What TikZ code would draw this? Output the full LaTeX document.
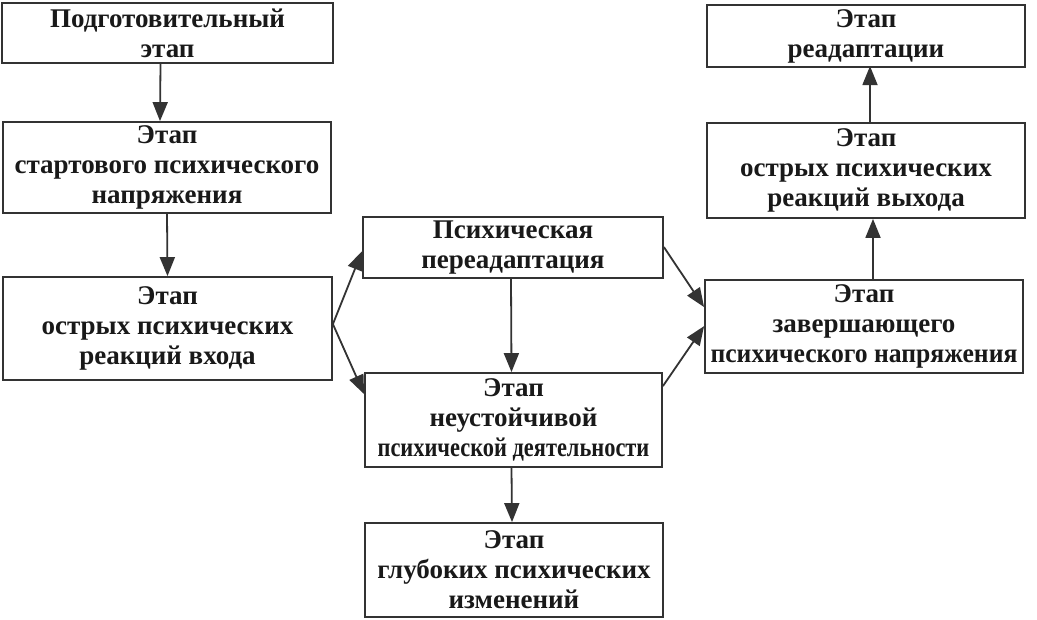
\documentclass[tikz,border=0pt]{standalone}
\usepackage{fontspec}
\setmainfont{Liberation Serif}
\usetikzlibrary{arrows.meta,calc}
\begin{document}
\begin{tikzpicture}[x=1pt,y=-1pt,
  stagebox/.style={draw=black!80,line width=1.8pt,rectangle,inner sep=0pt,align=center,
    font=\fontsize{27}{30}\selectfont\bfseries,text=black!90},
  link/.style={draw=black!80,line width=1.8pt,-{Triangle[length=19pt,width=15pt]}}]
\useasboundingbox (0,0) rectangle (1037,619);
\fill[white] (0,0) rectangle (1037,619);
\node[stagebox,minimum width=331pt,minimum height=60pt] (b1) at (167.5,33) {Подготовительный\\этап};
\node[stagebox,minimum width=328pt,minimum height=91pt] (b2) at (167,167.5) {Этап\\стартового психического\\напряжения};
\node[stagebox,minimum width=329pt,minimum height=103pt] (b3) at (167.5,328.5) {Этап\\острых психических\\реакций входа};
\node[stagebox,minimum width=300pt,minimum height=61pt] (b4) at (513,247.5) {Психическая\\переадаптация};
\node[stagebox,minimum width=297pt,minimum height=94pt] (b5) at (513.5,420) {Этап\\неустойчивой\\\scalebox{0.83}[1]{психической деятельности}};
\node[stagebox,minimum width=298pt,minimum height=94pt] (b6) at (514,570) {Этап\\глубоких психических\\изменений};
\node[stagebox,minimum width=318pt,minimum height=62pt] (b7) at (866,36) {Этап\\реадаптации};
\node[stagebox,minimum width=318pt,minimum height=95pt] (b8) at (866,170.5) {Этап\\острых психических\\реакций выхода};
\node[stagebox,minimum width=318pt,minimum height=93pt] (b9) at (864,326.5) {Этап\\завершающего\\\scalebox{0.95}[1]{психического напряжения}};
\draw[link] ($(b1.south)+(-7,0)$) -- ($(b2.north)+(-7,0)$);
\draw[link] (b2.south) -- (b3.north);
\draw[link] ($(b4.south)+(-2,0)$) -- ($(b5.north)+(-2,0)$);
\draw[link] ($(b5.south)+(-2,0)$) -- ($(b6.north)+(-2,0)$);
\draw[link] ($(b9.north)+(9,0)$) -- ($(b8.south)+(7,0)$);
\draw[link] ($(b8.north)+(4,0)$) -- ($(b7.north)+(4,62)$);
\coordinate (j3) at ($(b3.north east)+(0,48)$);
\draw[link] (j3) -- ($(b4.north west)+(0,35)$);
\draw[link] (j3) -- ($(b5.north west)+(0,22)$);
\draw[link] ($(b4.north east)+(0,31)$) -- ($(b9.north west)+(0,28)$);
\draw[link] ($(b5.north east)+(0,14)$) -- ($(b9.north west)+(0,47)$);
\end{tikzpicture}
\end{document}
